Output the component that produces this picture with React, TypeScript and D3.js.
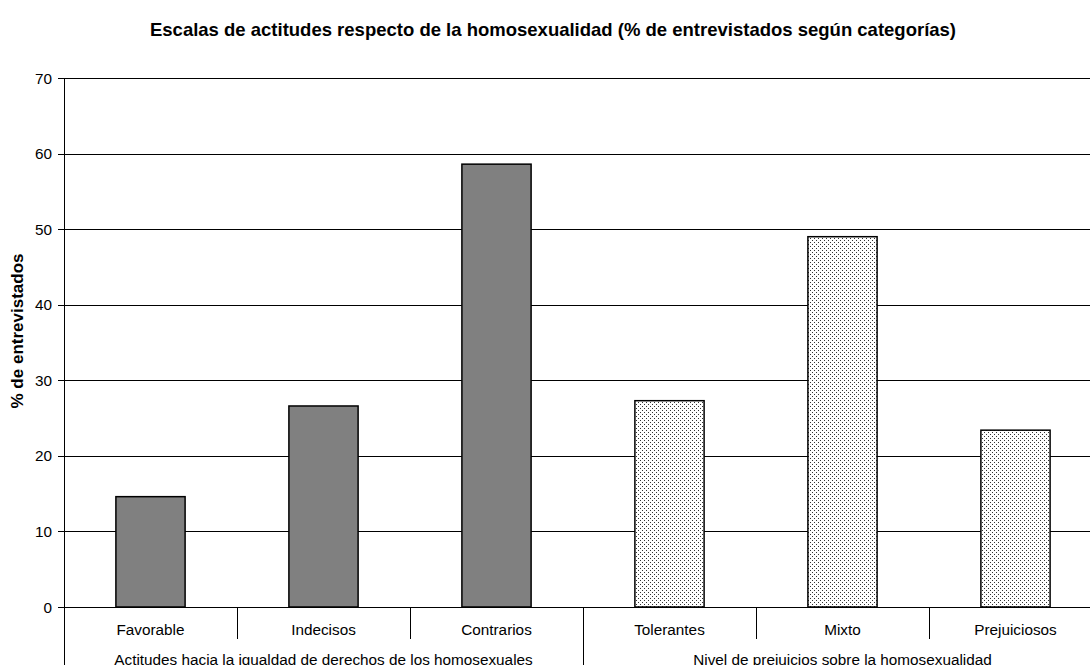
import React from "react";
import * as d3 from "d3";

const categories = ["Favorable", "Indecisos", "Contrarios", "Tolerantes", "Mixto", "Prejuiciosos"];
const values = [14.6, 26.6, 58.6, 27.3, 49.0, 23.4];
const groupOf = [0, 0, 0, 1, 1, 1];
const groups = [
  "Actitudes hacia la igualdad de derechos de los homosexuales",
  "Nivel de prejuicios sobre la homosexualidad",
];
const yTicks = [0, 10, 20, 30, 40, 50, 60, 70];
const title = "Escalas de actitudes respecto de la homosexualidad (% de entrevistados según categorías)";
const yTitle = "% de entrevistados";

export default function App() {
  const W = 1090, H = 665;
  const left = 64, right = 1102, top = 78, bottom = 607;
  const x = d3.scaleBand<string>().domain(categories).range([left, right]).paddingInner(0).paddingOuter(0);
  const y = d3.scaleLinear().domain([0, 70]).range([bottom, top]);
  const bw = x.bandwidth();
  const barW = bw * 0.4;
  const font = "Liberation Sans, Arial, sans-serif";

  const groupStarts = [0, 3].map((i) => x(categories[i])!);
  return (
    <svg width={W} height={H} style={{ position: "absolute", left: 0, top: 0, background: "#fff" }} fontFamily={font}>
      <defs>
        <pattern id="dots" width="4" height="4" patternUnits="userSpaceOnUse">
          <rect width="4" height="4" fill="#fff" />
          <rect x="0" y="0" width="1" height="1" fill="#333" />
          <rect x="2" y="2" width="1" height="1" fill="#333" />
        </pattern>
      </defs>
      <text x={553} y={36} textAnchor="middle" fontWeight="bold" fontSize={18.5}>{title}</text>
      {/* gridlines */}
      {yTicks.map((t) => (
        <g key={t}>
          <line x1={left - 6} x2={right} y1={Math.round(y(t)) + 0.5} y2={Math.round(y(t)) + 0.5} stroke="#000" strokeWidth={1} />
          <text x={52} y={y(t) + 5.5} textAnchor="end" fontSize={15.3}>{t}</text>
        </g>
      ))}
      {/* bars */}
      {categories.map((c, i) => {
        const cx = x(c)! + bw / 2;
        return (
          <rect key={c} x={cx - barW / 2} y={y(values[i])} width={barW} height={y(0) - y(values[i])}
            fill={groupOf[i] === 0 ? "#808080" : "url(#dots)"} stroke="#000" strokeWidth={1.5} />
        );
      })}
      {/* axis */}
      <line x1={left + 0.5} x2={left + 0.5} y1={top} y2={H} stroke="#000" />
      {/* category dividers */}
      {categories.map((c, i) => {
        if (i === 0) return null;
        const xx = Math.round(x(c)!) + 0.5;
        const isGroup = i === 3;
        return <line key={"d" + c} x1={xx} x2={xx} y1={bottom} y2={isGroup ? H : 639} stroke="#000" />;
      })}
      {categories.map((c) => (
        <text key={"l" + c} x={x(c)! + bw / 2} y={635} textAnchor="middle" fontSize={15.3}>{c}</text>
      ))}
      {groups.map((g, gi) => (
        <text key={g} x={groupStarts[gi] + (bw * 3) / 2} y={665} textAnchor="middle" fontSize={15.3}>{g}</text>
      ))}
      <text transform={`translate(23,331) rotate(-90)`} textAnchor="middle" fontWeight="bold" fontSize={17}>{yTitle}</text>
    </svg>
  );
}
